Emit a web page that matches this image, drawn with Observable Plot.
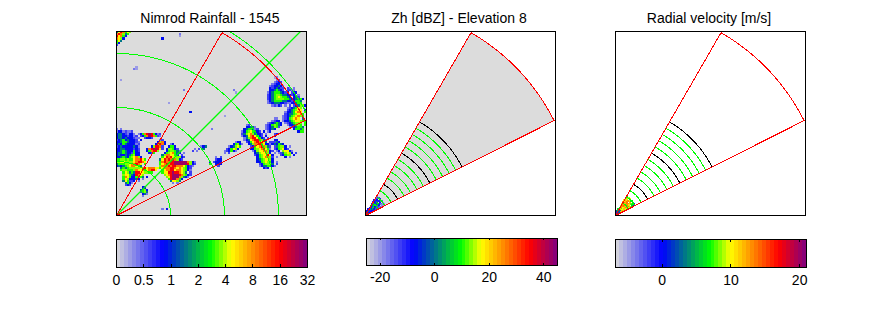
<!DOCTYPE html>
<html><head><meta charset="utf-8">
<script src="https://cdn.jsdelivr.net/npm/d3@7"></script>
<script src="https://cdn.jsdelivr.net/npm/@observablehq/plot@0.6"></script>
<style>
html,body{margin:0;padding:0;background:#fff}
#chart{position:relative;width:889px;height:333px;overflow:hidden}
#chart svg{position:absolute;overflow:visible;background:none}
</style></head><body><div id="chart"></div>
<script>
// ---- titles & colour bars
const titles = ["Nimrod Rainfall - 1545", "Zh [dBZ] - Elevation 8", "Radial velocity [m/s]"];
const rainTicks = [0,1,2,3,4,5,6,7];
const rainTickLabels = ["0","0.5","1","2","4","8","16","32"];
const zhDomain = [-25,45];
const zhTicks = [-20,0,20,40];
const vrDomain = [-6.8,21];
const vrTicks = [0,10,20];
const rainDomain = [0,7];
const stopPos = [0,0.247,0.497,0.605,0.857,1];
const stopColors = ["#dcdcdc","#0000ff","#00ff00","#ffff00","#ff0000","#800080"];
const bandCount = 48;

// ---- scan geometry (km / degrees)
const kmWidth = 176, kmHeight = 170.4;
const sectorAz = [30,63.3];
const sectorRange = 195.5;
const gridRings = [50,100,150,200];
const gridSpokes = [45];
const greenGates = [13.33,20,26.67,40,46.67,53.33,60,73.33,80,86.67,93.33];
const blackGates = [33.33,66.67,100];

// ---- rainfall rows: [row from top, first column, codes]
const rainCode = {b:0.45,1:0.85,2:1.3,3:1.75,4:2.6,5:3.5,6:3.9,7:4.3,8:5.2,9:6,a:6.8};
const rainRows = [
 // corner
 [0,0,"4798576"],[1,0,"898645"],[2,0,"97853"],[3,0,"8763"],[4,0,"574"],[5,0,"53"],[6,0,"2"],
 // specks
 [3,21,"3"],[1,29,"1"],[2,29,"b"],[16,9,"b"],[17,8,"1b"],[22,2,"b"],[27,31,"1"],[33,24,"b"],[37,34,"3"],[27,54,"1"],[28,55,"b"],
 [82,21,"1 3"],[45,44,"1"],[39,50,"b"],
 // top-right cluster
 [21,73,"b1"],[22,74,"12"],[23,73,"1232"],[24,72,"12331"],[25,71,"1233431"],[26,71,"3234322 21 1"],[27,71,"3345432 2211"],
 [28,70,"1345554323 233"],[29,70,"2345665443323 1"],[30,70,"23456765543 342"],[31,70,"23456666554334453"],
 [32,70,"1345555443323554"],[33,70,"1234443321133455"],[34,72,"12132 1 2 234663"],
 // right edge
 [35,79,"1234576"],[36,79,"2345677 3"],[37,78,"13345787 5"],[38,78,"234456785"],[39,77,"1234567865"],[40,77,"12356787 4"],
 [41,77,"13345677655"],[42,78,"12345666 5"],[43,79,"1334565 5"],[44,80,"1234554 5"],[45,82,"35545"],[46,84,"355"],
 // small cell
 [40,73,"11"],[41,72,"1233"],[42,70,"1234543"],[43,69,"12356543"],[44,69,"1234652"],[45,69,"12343"],[46,70,"13"],
 // tall cell
 [43,60,"12"],[44,60,"33441"],[45,59,"3455312"],[46,58,"135675432 3"],[47,58,"2467864332 1"],[48,58,"1347897532 3"],[49,59,"1468997532 2"],
 [50,59,"13478998642"],[51,60,"2357898774 2"],[52,61,"34688987331"],[53,62,"2357898642"],[54,62,"3356789751"],[55,63,"1367788632"],
 [56,64,"34677863 1"],[57,64,"235677973"],[58,65,"35678862 1"],[59,65,"34567763"],[60,65,"33567653 1"],[61,66,"2356664 2"],[62,66,"13445531"],[63,68,"323"],
 // east small
 [47,73,"23"],[48,73,"3"],[50,73,"33"],[51,72,"2243"],[52,72,"343543"],[53,73,"245663 1"],[54,73,"2356732"],[55,74,"13 67731"],
 [56,75,"1246763 2"],[57,76,"23566 3"],[58,78,"3 1"],
 // streak
 [51,55,"133"],[52,54,"35631"],[53,52,"134675"],[54,51,"235763"],[55,50,"123531"],[56,50,"1 2"],
 // blue cells
 [58,46,"1 2"],[59,46,"233"],[60,45,"2333"],[61,46,"333"],[62,47,"2"],[60,43,"3"],[61,43,"5"],
 [53,39,"134"],[54,36,"1 2 4"],[55,35,"2 1"],
 // left field
 [45,0,"1 1"],[46,0,"13312112"],[47,0,"344321331"],[48,0,"3443323312"],[49,0,"34434333211"],[50,0,"2345343332 3"],[51,0,"33455433321"],
 [52,0,"34354333312"],[53,0,"23433333431"],[54,0,"33443333232"],[55,0,"33454333532"],[56,0,"34454332533"],[57,0,"34334345633"],
 [58,0,"334543567863"],[59,0,"55665655788975"],[60,0,"66776666789987"],[61,0,"455566788987 5"],[62,0,"343456788754"],
 [63,2,"4545666667897888775"],[64,2,"56655568776578997"],[65,3,"57645499776655"],[66,3,"6775439876"],
 [67,3,"5875335654 3"],[68,3,"57633343 1"],[69,3,"475223 1"],[70,4,"4531"],[71,4,"232"],
 // red streak and diagonal
 [47,10,"13589a95312"],[48,11,"2358a98521"],[49,13,"2332"],
 [50,20,"12"],[51,19,"3683"],[52,18,"36983"],[53,16,"369982"],[54,14,"389aa972"],[55,14,"358996"],[56,15,"325"],
 // big cell
 [52,25,"13"],[53,24,"3553"],[54,23,"366532"],[55,23,"3566541"],[56,22,"35678543 1"],[57,21,"46887753 2"],[58,21,"57989776632"],[59,20,"47989898632"],
 [60,20,"5898899aaaaaa8631"],[61,20,"5789899aaaaaa9632"],[62,20,"6888989988875321"],[63,21,"78889987876532"],[64,21,"57889978876531"],
 [65,21,"57799a998764 2"],[66,22,"6789aaa986532"],[67,23,"679aaa86431"],[68,24,"59aa853"],[69,25,"47764"],[70,26,"1 1"],
 // south small
 [72,12,"33"],[73,11,"3563"],[74,11,"2564"],[75,12,"341"],[76,12,"1"]
];
// ---- radar gates at low range (6 beams across the sector)
const gateRanges = [2,4,6,8,10,12,14,16,18,20];
const beamAz = [33,38.5,44,50,55.5,61];
const zhGates = [
 [-5,38,40,38,-5,-5],[-6,-2,20,-8,2,-8],[-8,-2,-9,-4,-9,-8],[-7,-5,2,-8,0,-8],[3,-8,-9,8,-6,-4],
 [-9,2,8,-8,2,-12],[-10,-6,-9,-8,-12,-14],[-6,-9,3,8,-6,-15],[-14,-8,-10,-6,-16,-18],[-16,-12,-10,-14,-18,-20]
];
const vrGates = [
 [0,1,-1,0,0,0],[2,-1,1,0,3,2],[6,10,1,7,3,9],[11,6,12,8,10,12],[9,12,13,10,12,9],
 [11,13,14,12,13,11],[12,14,12,13,14,10],[10,12,14,13,11,9],[9,11,13,12,8,6],[6,9,10,6,7,1]
];

// ---- helpers
const cmap = d3.scaleLinear().domain(stopPos).range(stopColors).interpolate(d3.interpolateRgb);
const bandColors = d3.range(bandCount).map(i => cmap((i+0.5)/bandCount));
const colorOpts = domain => ({type:"quantize", domain, range:bandColors});
const deg = Math.PI/180;
const polar = (r,az) => ({x:r*Math.sin(az*deg), y:r*Math.cos(az*deg)});
const arc = (r,a0,a1) => d3.range(a0,a1,0.5).concat([a1]).map(a => polar(r,a));
const sector = [{x:0,y:0},...arc(sectorRange,sectorAz[0],sectorAz[1]),{x:0,y:0}];
const chart = document.getElementById("chart");
const crisp = {shapeRendering:"crispEdges"};
const font = {fontFamily:"'Liberation Sans',Arial,sans-serif", fontSize:"14px", background:"none"};

function place(svg,left,top){ svg.style.left=left+"px"; svg.style.top=top+"px"; chart.appendChild(svg); }

function mapPanel(left, title, domain, marks){
  const m = 10, top = 31;
  const svg = Plot.plot({
    width:190+2*m, height:184+top+m, marginLeft:m, marginRight:m, marginTop:top, marginBottom:m,
    style:font,
    x:{domain:[0,kmWidth], axis:null}, y:{domain:[0,kmHeight], axis:null},
    color:colorOpts(domain),
    marks:[
      ...marks,
      Plot.frame({stroke:"#000", strokeWidth:1.2, ...crisp}),
      Plot.text([title],{frameAnchor:"top", dy:-9, dx:-1.5, lineAnchor:"bottom", fontSize:14, fill:"#000"})
    ]
  });
  place(svg,left-m,0);
}
function colorBar(left, barTop, barH, domain, ticks, labels, padding){
  const m = 14;
  const step = (domain[1]-domain[0])/bandCount;
  const bands = d3.range(bandCount).map(i => ({a:domain[0]+i*step, b:domain[0]+(i+1)*step}));
  const svg = Plot.plot({
    width:191+2*m, height:barH+26, marginLeft:m, marginRight:m, marginTop:0, marginBottom:26,
    style:font,
    x:{domain}, y:{domain:[0,1], axis:null},
    color:colorOpts(domain),
    marks:[
      Plot.rectY(bands,{x1:"a",x2:"b",y1:0,y2:1,fill:d=>(d.a+d.b)/2,...crisp}),
      Plot.ruleX(ticks,{y1:0,y2:0.09,stroke:"#000",...crisp}),
      Plot.ruleX(ticks,{y1:0.91,y2:1,stroke:"#000",...crisp}),
      Plot.frame({stroke:"#000",strokeWidth:1.2,...crisp}),
      Plot.axisX({ticks, tickSize:0, tickPadding:padding, fontSize:14, fill:"#000",
        tickFormat: labels ? (d => labels[ticks.indexOf(d)]) : (d => String(d))})
    ]
  });
  place(svg,left-m,barTop);
}
const lineMarks = (rings,color) => rings.map(r => Plot.line(arc(r,0,90),{x:"x",y:"y",stroke:color,strokeWidth:1,clip:true,...crisp}));
const sectorClipArc = (rings,color) => rings.map(r => Plot.line(arc(r,sectorAz[0],sectorAz[1]),{x:"x",y:"y",stroke:color,strokeWidth:1,...crisp}));
const rainCells = rainRows.flatMap(([row,col,s]) => [...s].map((ch,i)=> ch===" "?null:{col:col+i,row,v:rainCode[ch]})).filter(Boolean);
const cellPts = gates => gates.flatMap((row,g)=>row.map((v,b)=>{const p=polar(gateRanges[g],beamAz[b]);return {x:p.x,y:p.y,v};}));
const cellRect = pts => Plot.rect(pts,{x1:d=>d.x-1,x2:d=>d.x+1,y1:d=>d.y-1,y2:d=>d.y+1,fill:"v",clip:true,...crisp});

// ---- panel 1
mapPanel(116,titles[0],rainDomain,[
  Plot.frame({fill:"#dcdcdc"}),
  Plot.rect(rainCells,{x1:d=>d.col*2,x2:d=>d.col*2+2,y1:d=>kmHeight-d.row*2-2,y2:d=>kmHeight-d.row*2,fill:"v",clip:true,...crisp}),
  ...lineMarks(gridRings,"#00ff00"),
  ...gridSpokes.map(a=>Plot.line([polar(0,a),polar(260,a)],{x:"x",y:"y",stroke:"#00ff00",strokeWidth:1.3,clip:true})),
  Plot.line(sector,{x:"x",y:"y",stroke:"#ff0000",strokeWidth:1,clip:true,...crisp})
]);
// ---- panel 2
mapPanel(365,titles[1],zhDomain,[
  Plot.line(sector,{x:"x",y:"y",fill:"#dcdcdc",stroke:"none"}),
  cellRect(cellPts(zhGates)),
  ...sectorClipArc(greenGates,"#00ff00"),
  ...sectorClipArc(blackGates,"#000"),
  Plot.line(sector,{x:"x",y:"y",stroke:"#ff0000",strokeWidth:1,clip:true,...crisp})
]);
// ---- panel 3
mapPanel(615,titles[2],vrDomain,[
  cellRect(cellPts(vrGates)),
  ...sectorClipArc(greenGates,"#00ff00"),
  ...sectorClipArc(blackGates,"#000"),
  Plot.line(sector,{x:"x",y:"y",stroke:"#ff0000",strokeWidth:1,clip:true,...crisp})
]);
// ---- colour bars
colorBar(116,239,28,rainDomain,rainTicks,rainTickLabels,8);
colorBar(366,238,27,zhDomain,zhTicks,null,7);
colorBar(615,239,28,vrDomain,vrTicks,null,8);
</script></body></html>
